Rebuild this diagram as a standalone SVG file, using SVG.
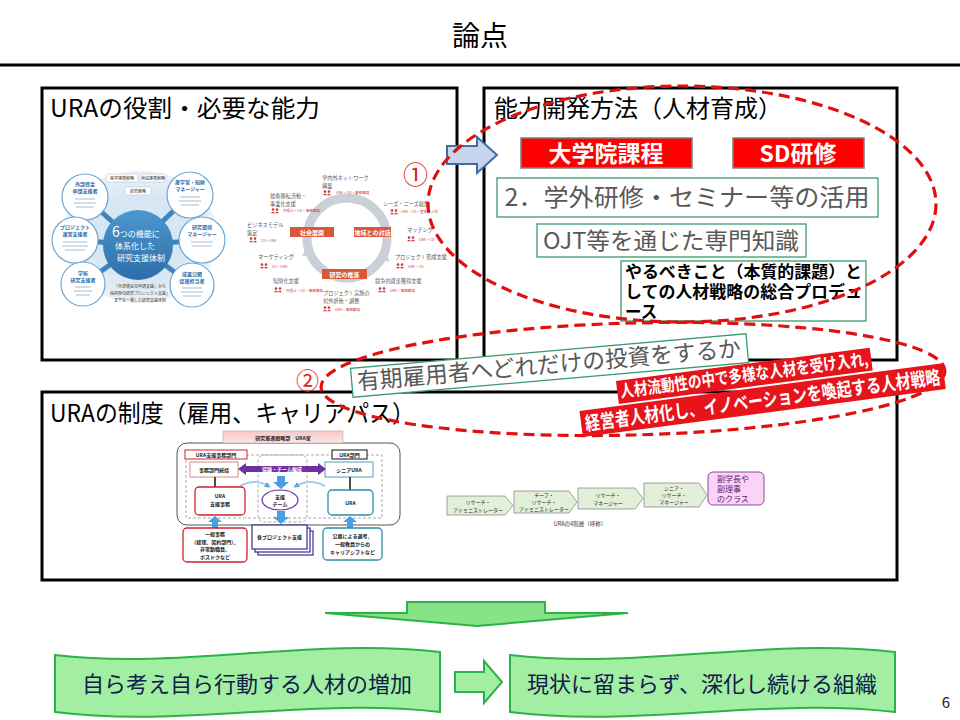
<svg xmlns="http://www.w3.org/2000/svg" width="960" height="720" viewBox="0 0 960 720">
<defs>
<style>
text{font-family:"Noto Sans CJK JP","Noto Sans",sans-serif}
.panel{fill:#fff;stroke:#000;stroke-width:3}
.ptitle{font-size:24px;fill:#000}
.dash{fill:none;stroke:#E01010;stroke-width:3.2;stroke-dasharray:11 6}
.gbox{fill:#fff;stroke:#3A9A6A;stroke-width:1.3}
.gray{fill:#595959}
.redbox{fill:#FF0000;stroke:#7F7F7F;stroke-width:1.5}
.wt{fill:#fff;font-weight:bold}
.band{fill:#A2EEA2;stroke:#2DB24A;stroke-width:2}
.sat{fill:#fff;stroke:#6AA6D6;stroke-width:1.2}
.satt{font-size:5px;fill:#2E6DA8;font-weight:bold;text-anchor:middle}
.tiny{font-size:5.2px;fill:#555}
.rtiny{font-size:3.6px;fill:#D23C3C}
.obox{fill:#D9573A}
.ot{font-size:6px;fill:#fff;font-weight:bold;text-anchor:middle}
.org{font-size:5px;fill:#222;font-weight:bold;text-anchor:middle}
.lad{fill:#E2F0D9;stroke:#8A8A8A;stroke-width:0.8}
.ladt{font-size:5px;fill:#222;text-anchor:middle}
.bt{font-size:22px;fill:#10204A;text-anchor:middle}
</style>
<linearGradient id="gC" x1="0" y1="0" x2="0" y2="1"><stop offset="0" stop-color="#4C97CF"/><stop offset="1" stop-color="#2D6FA8"/></linearGradient>
<radialGradient id="gBg" cx="0.5" cy="0.5" r="0.5"><stop offset="0.6" stop-color="#D6E6F3"/><stop offset="1" stop-color="#EAF2F9"/></radialGradient>
<linearGradient id="gPink" x1="0" y1="0" x2="0" y2="1"><stop offset="0" stop-color="#F7C6C6"/><stop offset="1" stop-color="#FBE6E6"/></linearGradient>
<g id="ppl"><circle cx="2" cy="1.6" r="1.3" fill="#D23C3C"/><path d="M0,5.2 Q2,2.4 4,5.2Z" fill="#D23C3C"/><circle cx="6" cy="1.6" r="1.3" fill="#D23C3C"/><path d="M4,5.2 Q6,2.4 8,5.2Z" fill="#D23C3C"/></g>
<marker id="bArr" viewBox="0 0 10 10" refX="5" refY="5" markerWidth="3" markerHeight="3" orient="auto"><path d="M0,0L10,5L0,10Z" fill="#5BA7DF"/></marker>
</defs>
<rect width="960" height="720" fill="#fff"/>

<g id="title"><text x="480" y="46" font-size="28" text-anchor="middle" fill="#000">論点</text>
<line x1="0" y1="65" x2="960" y2="65" stroke="#000" stroke-width="3"/></g>

<!-- Panel 1 -->
<g id="panel1">
<rect class="panel" x="42" y="88" width="415" height="272"/>
<text class="ptitle" x="50" y="117" textLength="270" lengthAdjust="spacingAndGlyphs">URAの役割・必要な能力</text>
<g id="imgA">
<ellipse cx="140" cy="237" rx="78" ry="66" fill="url(#gBg)"/>
<g stroke="#3D84BF" stroke-width="5">
<line x1="138" y1="245" x2="85" y2="197"/><line x1="138" y1="245" x2="75" y2="240"/><line x1="138" y1="245" x2="83" y2="284"/>
<line x1="138" y1="245" x2="190" y2="195"/><line x1="138" y1="245" x2="202" y2="240"/><line x1="138" y1="245" x2="192" y2="285"/>
</g>
<circle cx="138" cy="245" r="35" fill="url(#gC)"/>
<text x="112" y="237" font-size="8" fill="#fff"><tspan font-size="14">6</tspan>つの機能に</text>
<text x="115" y="249" font-size="8" fill="#fff">体系化した</text>
<text x="117" y="261" font-size="8" fill="#fff">研究支援体制</text>
<g fill="#fff" stroke="#B5C8DA" stroke-width="0.6">
<rect x="106" y="174" width="32" height="8" rx="2"/><rect x="140" y="174" width="26" height="8" rx="2"/><rect x="125" y="187" width="26" height="8" rx="2"/>
</g>
<text x="122" y="180" font-size="4" fill="#333" text-anchor="middle">産学連携戦略</text>
<text x="153" y="180" font-size="4" fill="#333" text-anchor="middle">地域連携戦略</text>
<text x="138" y="193" font-size="4" fill="#333" text-anchor="middle">研究戦略</text>
<circle class="sat" cx="85" cy="197" r="23"/><circle class="sat" cx="75" cy="240" r="23"/><circle class="sat" cx="83" cy="284" r="22"/>
<circle class="sat" cx="190" cy="195" r="23"/><circle class="sat" cx="202" cy="240" r="23"/><circle class="sat" cx="192" cy="285" r="22"/>
<text class="satt" x="85" y="186">外部資金</text><text class="satt" x="85" y="193">申請支援者</text>
<text class="satt" x="75" y="229">プロジェクト</text><text class="satt" x="75" y="236">運営支援者</text>
<text class="satt" x="83" y="275">学術</text><text class="satt" x="83" y="282">研究支援者</text>
<text class="satt" x="190" y="184">産学官・知財</text><text class="satt" x="190" y="191">マネージャー</text>
<text class="satt" x="202" y="229">研究環境</text><text class="satt" x="202" y="236">マネージャー</text>
<text class="satt" x="192" y="276">成果公開</text><text class="satt" x="192" y="283">促進担当者</text>
<g stroke="#9FB4C8" stroke-width="0.9">
<line x1="75" y1="199" x2="95" y2="199"/><line x1="74" y1="203" x2="96" y2="203"/><line x1="76" y1="207" x2="94" y2="207"/>
<line x1="63" y1="242" x2="87" y2="242"/><line x1="62" y1="246" x2="88" y2="246"/><line x1="65" y1="250" x2="85" y2="250"/>
<line x1="75" y1="287" x2="91" y2="287"/><line x1="74" y1="291" x2="92" y2="291"/><line x1="76" y1="295" x2="90" y2="295"/>
<line x1="180" y1="197" x2="200" y2="197"/><line x1="179" y1="201" x2="201" y2="201"/><line x1="181" y1="205" x2="199" y2="205"/>
<line x1="191" y1="242" x2="213" y2="242"/><line x1="192" y1="246" x2="212" y2="246"/>
<line x1="182" y1="288" x2="202" y2="288"/><line x1="181" y1="292" x2="203" y2="292"/><line x1="183" y1="296" x2="201" y2="296"/>
</g>
<text x="140" y="288" font-size="4" fill="#333" text-anchor="middle">「外部資金の申請支援」から</text>
<text x="140" y="295" font-size="4" fill="#333" text-anchor="middle">採択後の研究プロジェクト支援」</text>
<text x="140" y="302" font-size="4" fill="#333" text-anchor="middle">までを一貫した研究支援体制</text>
</g>
<g id="imgB">
<circle cx="347" cy="238" r="40" fill="none" stroke="#CBD0D8" stroke-width="9"/>
<path d="M354,193 L366,198 L353,204Z" fill="#CBD0D8"/>
<path d="M384,249 L390,262 L378,259Z" fill="#CBD0D8"/>
<path d="M302,256 L308,244 L313,256Z" fill="#CBD0D8"/>
<rect class="obox" x="290" y="227" width="44" height="10"/>
<rect class="obox" x="354" y="227" width="37" height="10"/>
<rect class="obox" x="322" y="269" width="45" height="10"/>
<text class="ot" x="312" y="234.5">社会展開</text>
<text class="ot" x="372.5" y="234.5">地域との対話</text>
<text class="ot" x="344.5" y="276.5">研究の推進</text>
<text class="tiny" x="322" y="180">学内外ネットワーク</text><text class="tiny" x="322" y="187.5">構築</text>
<use href="#ppl" x="323" y="190"/><text class="rtiny" x="336" y="194">URA・CD・事務職員</text>
<text class="tiny" x="270" y="198">技術移転活動・</text><text class="tiny" x="270" y="205.5">事業化支援</text>
<use href="#ppl" x="271" y="208"/><text class="rtiny" x="283" y="212">弁理士・CD・事務職員</text>
<text class="tiny" x="383" y="206">シーズ・ニーズ収集</text>
<use href="#ppl" x="390" y="209"/><text class="rtiny" x="401" y="213">URA・CD・産業界人材</text>
<text class="tiny" x="247" y="227">ビジネスモデル</text><text class="tiny" x="247" y="234.5">策定</text>
<use href="#ppl" x="249" y="237"/><text class="rtiny" x="261" y="241.5">CD・URA</text>
<text class="tiny" x="407" y="232">マッチング</text>
<use href="#ppl" x="407" y="236"/><text class="rtiny" x="419" y="240.5">URA・CD</text>
<text class="tiny" x="258" y="259">マーケティング</text>
<use href="#ppl" x="260" y="263"/><text class="rtiny" x="272" y="267.5">CD・URA</text>
<text class="tiny" x="395" y="259">プロジェクト形成支援</text>
<use href="#ppl" x="396" y="263"/><text class="rtiny" x="408" y="267.5">URA・CD</text>
<text class="tiny" x="273" y="283">知財化支援</text>
<use href="#ppl" x="274" y="287"/><text class="rtiny" x="286" y="291.5">弁理士・CD・事務職員</text>
<text class="tiny" x="375" y="283">競争的資金獲得支援</text>
<use href="#ppl" x="378" y="287"/><text class="rtiny" x="390" y="291.5">URA・事務職員</text>
<text class="tiny" x="323" y="295">プロジェクト実施の</text><text class="tiny" x="323" y="302.5">対外折衝・調整</text>
<use href="#ppl" x="323" y="306"/><text class="rtiny" x="335" y="310.5">URA・事務職員</text>
</g>
</g>

<!-- Panel 2 -->
<g id="panel2">
<rect class="panel" x="484" y="88" width="413" height="272"/>
<text class="ptitle" x="494" y="117" textLength="288" lengthAdjust="spacingAndGlyphs">能力開発方法（人材育成）</text>
</g>
<g id="daigakuin"><rect class="redbox" x="521" y="138" width="171" height="30"/>
<text class="wt" x="606" y="162" font-size="23" text-anchor="middle">大学院課程</text></g>
<g id="sd"><rect class="redbox" x="733" y="138" width="131" height="30"/>
<text class="wt" x="798" y="162" font-size="23" text-anchor="middle">SD研修</text></g>
<g id="gakugai"><rect class="gbox" x="497" y="178" width="381" height="39"/>
<text class="gray" x="687" y="206" font-size="24" text-anchor="middle" textLength="365" lengthAdjust="spacingAndGlyphs">2．学外研修・セミナー等の活用</text></g>
<g id="ojt"><rect class="gbox" x="537" y="224" width="269" height="33"/>
<text class="gray" x="671" y="249" font-size="23" text-anchor="middle" textLength="256" lengthAdjust="spacingAndGlyphs">OJT等を通じた専門知識</text></g>
<g id="yarubeki"><rect class="gbox" x="621" y="261" width="245" height="60"/>
<text x="625" y="278" font-size="16.5" font-weight="bold" fill="#000" textLength="237" lengthAdjust="spacingAndGlyphs">やるべきこと（本質的課題）と</text>
<text x="625" y="298" font-size="16.5" font-weight="bold" fill="#000" textLength="237" lengthAdjust="spacingAndGlyphs">しての人材戦略の総合プロデュ</text>
<text x="625" y="318" font-size="16.5" font-weight="bold" fill="#000">ース</text></g>

<!-- Panel 3 -->
<g id="panel3">
<rect class="panel" x="42" y="392" width="855" height="188"/>
<text class="ptitle" x="50" y="422" textLength="365" lengthAdjust="spacingAndGlyphs">URAの制度（雇用、キャリアパス）</text>
</g>
<g id="orgchart">
<rect x="177" y="443" width="223" height="82" rx="10" fill="#fff" stroke="#555" stroke-width="1"/>
<rect x="186" y="455" width="196" height="63" fill="none" stroke="#A0A0A0" stroke-width="0.9" stroke-dasharray="3 2"/>
<rect x="258" y="455" width="49" height="67" rx="6" fill="none" stroke="#A0A0A0" stroke-width="0.9" stroke-dasharray="3 2"/>
<rect x="223" y="431" width="120" height="12" fill="url(#gPink)" stroke="#C9A0A0" stroke-width="0.6"/>
<text class="org" x="283" y="440">研究推進戦略部　URA室</text>
<rect x="185" y="450" width="62" height="9" fill="#fff" stroke="#D02030" stroke-width="1"/>
<text class="org" x="216" y="457">URA支援事務部門</text>
<rect x="332" y="450" width="35" height="9" fill="#fff" stroke="#111" stroke-width="1"/>
<text class="org" x="349.5" y="457">URA部門</text>
<rect x="190" y="462" width="48" height="15" fill="#fff" stroke="#D48A8A" stroke-width="1"/>
<text class="org" x="214" y="472">事務部門統括</text>
<rect x="325" y="462" width="48" height="15" fill="#fff" stroke="#4AA3B5" stroke-width="1"/>
<text class="org" x="349" y="472">シニアURA</text>
<path d="M238,469 L246,463 L246,466 L318,466 L318,463 L326,469 L318,475 L318,472 L246,472 L246,475Z" fill="#7030A0"/>
<text x="282" y="471.3" font-size="5" fill="#fff" font-weight="bold" text-anchor="middle">協議・チーム編成</text>
<line x1="215" y1="477" x2="215" y2="487" stroke="#111" stroke-width="1.5"/>
<line x1="350" y1="477" x2="350" y2="490" stroke="#111" stroke-width="1.5"/>
<path d="M277,476 L285,476 L285,482 L289,482 L281,489 L273,482 L277,482Z" fill="#4A9FE0"/>
<path d="M240,486 Q255,478 268,486" fill="none" stroke="#A8CDEE" stroke-width="2" marker-end="url(#bArr)"/>
<path d="M325,486 Q310,478 296,486" fill="none" stroke="#A8CDEE" stroke-width="2" marker-end="url(#bArr)"/>
<rect x="195" y="487" width="50" height="28" rx="4" fill="#fff" stroke="#D02030" stroke-width="1.3"/>
<text class="org" x="220" y="498">URA</text><text class="org" x="220" y="506">支援事務</text>
<ellipse cx="280" cy="500" rx="18" ry="10" fill="#fff" stroke="#7030A0" stroke-width="1.2"/>
<text class="org" x="280" y="498.5">支援</text><text class="org" x="280" y="506">チーム</text>
<rect x="328" y="490" width="45" height="25" rx="4" fill="#fff" stroke="#2E8FA8" stroke-width="1.3"/>
<text class="org" x="350.5" y="505">URA</text>
<path d="M277,511 L285,511 L285,517 L289,517 L281,524 L273,517 L277,517Z" fill="#4A9FE0"/>
<path d="M212,528 L218,528 L218,522 L222,522 L215,516 L208,522 L212,522Z" fill="#4A9FE0"/>
<path d="M347,528 L353,528 L353,522 L357,522 L350,516 L343,522 L347,522Z" fill="#4A9FE0"/>
<rect x="183" y="528" width="64" height="34" rx="4" fill="#fff" stroke="#D02030" stroke-width="1.3"/>
<text class="org" x="215" y="536">一般事務</text><text class="org" x="215" y="543.5">（経理、契約部門）、</text><text class="org" x="215" y="551">非常勤職員、</text><text class="org" x="215" y="558.5">ポスドクなど</text>
<rect x="258" y="531" width="55" height="24" fill="#fff" stroke="#3A2E8E" stroke-width="1.2"/>
<rect x="255" y="528" width="55" height="24" fill="#fff" stroke="#3A2E8E" stroke-width="1.2"/>
<rect x="252" y="525" width="55" height="24" fill="#fff" stroke="#3A2E8E" stroke-width="1.2"/>
<text class="org" x="279.5" y="539">各プロジェクト支援</text>
<rect x="323" y="528" width="59" height="32" rx="4" fill="#fff" stroke="#2E8FA8" stroke-width="1.3"/>
<text class="org" x="352.5" y="538">公募による選考、</text><text class="org" x="352.5" y="546">一般教員からの</text><text class="org" x="352.5" y="554">キャリアシフトなど</text>
</g>
<g id="ladder">
<path class="lad" d="M447,496 L505,496 L513,505.5 L505,515 L447,515Z"/>
<text class="ladt" x="478" y="504">リサーチ・</text><text class="ladt" x="478" y="511.5">アドミニストレーター</text>
<path class="lad" d="M514,491 L569,491 L577,502 L569,513 L514,513Z"/>
<text class="ladt" x="544" y="497">チーフ・</text><text class="ladt" x="544" y="504">リサーチ・</text><text class="ladt" x="544" y="511">アドミニストレーター</text>
<path class="lad" d="M578,488 L635,488 L643,498.5 L635,509 L578,509Z"/>
<text class="ladt" x="608" y="497">リサーチ・</text><text class="ladt" x="608" y="504.5">マネージャー</text>
<path class="lad" d="M644,483 L699,483 L707,495 L699,507 L644,507Z"/>
<text class="ladt" x="674" y="490">シニア・</text><text class="ladt" x="674" y="497">リサーチ・</text><text class="ladt" x="674" y="504">マネージャー</text>
<rect x="708" y="472" width="56" height="33" rx="5" fill="#FBD3F7" stroke="#8A4A9A" stroke-width="1"/>
<text x="717" y="482" font-size="8" fill="#5A1E6E">副学長や</text>
<text x="717" y="492" font-size="8" fill="#5A1E6E">副理事</text>
<text x="717" y="502" font-size="8" fill="#5A1E6E">のクラス</text>
<text x="580" y="526" font-size="5.5" fill="#333" text-anchor="middle">URAの4階層（呼称）</text>
</g>

<g id="connectors">
<path d="M447,146 L477,146 L477,137 L497,155 L477,173 L477,164 L447,164Z" fill="#C5D6EC" stroke="#3F6EA5" stroke-width="2"/>
<ellipse class="dash" cx="682" cy="204" rx="254" ry="118"/>
<ellipse class="dash" cx="633" cy="379" rx="312" ry="56" transform="rotate(-1.5 633 379)"/>
<path d="M407,602 L545,602 L545,613 L628,613 L477,626 L325,613 L407,613Z" fill="#86E386" stroke="#2DB24A" stroke-width="2"/>
<path d="M455,672 L484,672 L484,661 L502,682 L484,703 L484,692 L455,692Z" fill="#A2EEA2" stroke="#2DB24A" stroke-width="2"/>
</g>
<text x="403" y="184" font-size="25" fill="#E02020">①</text>
<text x="296" y="389" font-size="23" fill="#E02020">②</text>

<g id="yuki" transform="rotate(-5 549 365)">
<rect class="gbox" x="351" y="351" width="397" height="29"/>
<text class="gray" x="549" y="373" font-size="23" text-anchor="middle" textLength="385" lengthAdjust="spacingAndGlyphs">有期雇用者へどれだけの投資をするか</text>
</g>
<g id="senryaku" transform="rotate(-7.5 755 388)">
<rect x="618" y="363" width="256" height="23" fill="#E8141B"/>
<text x="746" y="380" font-size="17" fill="#fff" font-weight="bold" text-anchor="middle" textLength="250" lengthAdjust="spacingAndGlyphs">人材流動性の中で多様な人材を受け入れ,</text>
<rect x="578" y="388" width="366" height="26" fill="#E8141B"/>
<text x="761" y="408" font-size="19" fill="#fff" font-weight="bold" text-anchor="middle" textLength="358" lengthAdjust="spacingAndGlyphs">経営者人材化し、イノベーションを喚起する人材戦略</text>
</g>

<g id="band1">
<path class="band" d="M55,655 C182,670 310,637 440,652 L440,712 C310,697 182,728 55,712Z"/>
<text class="bt" x="247" y="692">自ら考え自ら行動する人材の増加</text>
</g>
<g id="band2">
<path class="band" d="M510,655 C638,670 766,637 895,652 L895,712 C766,697 638,728 510,712Z"/>
<text class="bt" x="702" y="692">現状に留まらず、深化し続ける組織</text>
</g>
<text x="946" y="708" font-size="15" fill="#222" text-anchor="middle">6</text>
</svg>
